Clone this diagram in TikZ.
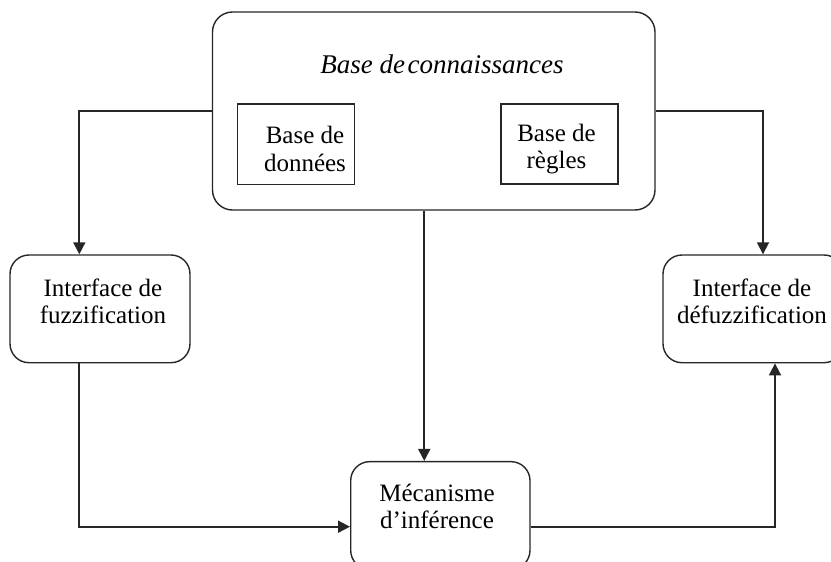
\documentclass[tikz,border=0pt]{standalone}
\usepackage{fontspec}
\setmainfont{Liberation Serif}
\usetikzlibrary{arrows.meta}

\tikzset{
  box/.style={draw=black!85, line width=1.4pt, rounded corners=19pt,
    minimum width=#1, minimum height=107.7pt, inner sep=0pt},
  inbox/.style={draw=black!85, line width=#1, minimum width=117pt,
    minimum height=80.5pt, inner sep=0pt},
  lbl/.style={align=center, font=\fontsize{25pt}{27.5pt}\selectfont, inner sep=0pt},
  arr/.style={draw=black!85, line width=1.8pt,
    -{Triangle[length=12pt,width=12pt]}}
}

\begin{document}
\begin{tikzpicture}[x=1pt,y=-1pt]
  \useasboundingbox (0,0) rectangle (831,562);
  \clip (0,0) rectangle (831,562);

  % knowledge base and its two parts
  \node[box=442.5pt, minimum height=198pt, rounded corners=20pt] (kb) at (433.75,111) {};
  \node[font=\fontsize{27pt}{30pt}\selectfont\itshape, inner sep=0pt] (kbt) at (442,64)
    {Base de\hspace{0.1em}connaissances};
  \node[inbox=1.4pt] (bd) at (296,144.2) {};
  \node[lbl] (bdt) at (305,149) {Base de\\données};
  \node[inbox=2.1pt] (br) at (559.5,144) {};
  \node[lbl] (brt) at (556.5,149) {Base de\\règles};

  % interfaces and inference engine
  \node[box=180pt] (fuzz) at (100,308.85) {};
  \node[lbl] (fuzzt) at (103,301.5) {Interface de\\fuzzification};
  \node[box=180pt] (defuzz) at (753,308.85) {};
  \node[lbl] (defuzzt) at (752,301.5) {Interface de\\défuzzification};
  \node[box=179.3pt] (inf) at (440.35,515.5) {};
  \node[lbl] (inft) at (437,506.5) {Mécanisme\\d’inférence};

  % connectors
  \draw[arr] (kb.west) -| ([xshift=-20.7pt]fuzz.north);
  \draw[arr] (kb.east) -| ([xshift=10pt]defuzz.north);
  \draw[arr] ([xshift=-9.5pt]kb.south) -- ([xshift=-9.5pt]kb.south |- inf.north);
  \draw[arr] ([xshift=-21pt]fuzz.south) |- ([yshift=-11.2pt]inf.west);
  \draw[arr] ([yshift=-11.2pt]inf.east) -| ([xshift=22pt]defuzz.south);
\end{tikzpicture}
\end{document}
